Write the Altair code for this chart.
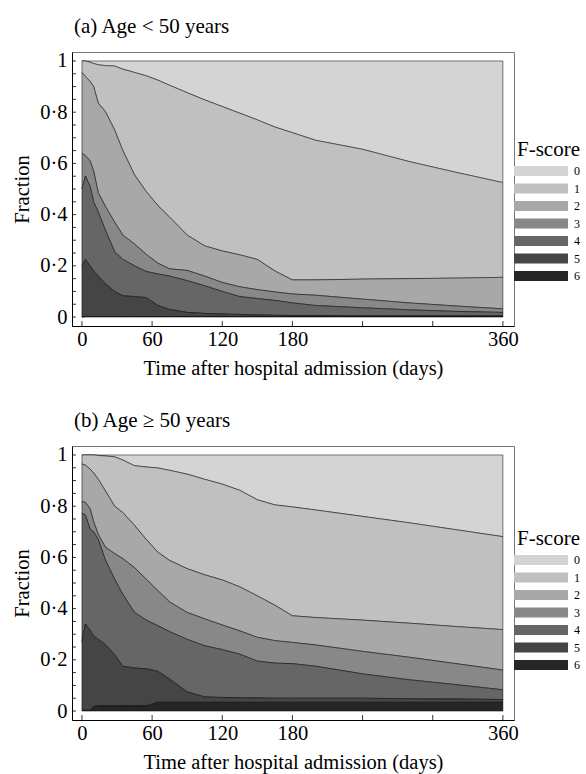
import altair as alt
import pandas as pd

# ---------------- data ----------------
DAYS = [0, 3, 7, 10, 14, 20, 28, 35, 45, 55, 65, 75, 90, 105, 120, 135, 150,
        165, 180, 200, 240, 280, 320, 360]
SCORES = ["0", "1", "2", "3", "4", "5", "6"]

# Panel (a) Age < 50: fraction of patients with F-score >= k (k = 1..6)
A_GE1 = [1.0, 1.0, 0.995, 0.99, 0.985, 0.982, 0.98, 0.968, 0.955, 0.942, 0.925, 0.905,
         0.876, 0.848, 0.822, 0.796, 0.77, 0.742, 0.72, 0.69, 0.655, 0.607, 0.565, 0.525]
A_GE2 = [0.955, 0.94, 0.92, 0.90, 0.835, 0.803, 0.73, 0.65, 0.555, 0.49, 0.435, 0.39,
         0.32, 0.278, 0.258, 0.243, 0.225, 0.18, 0.145, 0.145, 0.148, 0.15, 0.152, 0.155]
A_GE3 = [0.64, 0.63, 0.61, 0.57, 0.485, 0.433, 0.37, 0.32, 0.285, 0.245, 0.21, 0.188,
         0.182, 0.16, 0.135, 0.118, 0.107, 0.098, 0.09, 0.085, 0.07, 0.055, 0.043, 0.032]
A_GE4 = [0.50, 0.55, 0.51, 0.45, 0.41, 0.34, 0.255, 0.225, 0.2, 0.178, 0.168, 0.16,
         0.142, 0.122, 0.1, 0.08, 0.072, 0.065, 0.055, 0.045, 0.036, 0.028, 0.022, 0.018]
A_GE5 = [0.20, 0.225, 0.2, 0.18, 0.16, 0.13, 0.1, 0.083, 0.08, 0.076, 0.045, 0.03,
         0.018, 0.014, 0.012, 0.01, 0.008, 0.007, 0.006, 0.006, 0.005, 0.005, 0.005, 0.005]
A_GE6 = [0.0, 0.002, 0.002, 0.002, 0.002, 0.002, 0.002, 0.002, 0.002, 0.002, 0.002, 0.002,
         0.002, 0.002, 0.002, 0.002, 0.002, 0.002, 0.002, 0.002, 0.002, 0.002, 0.002, 0.002]

# Panel (b) Age >= 50
B_GE1 = [1.0, 1.0, 1.0, 1.0, 0.998, 0.996, 0.993, 0.98, 0.958, 0.953, 0.949, 0.94,
         0.925, 0.905, 0.886, 0.862, 0.825, 0.805, 0.797, 0.785, 0.76, 0.735, 0.708, 0.681]
B_GE2 = [0.965, 0.96, 0.945, 0.93, 0.905, 0.86, 0.8, 0.775, 0.725, 0.67, 0.62, 0.588,
         0.556, 0.532, 0.512, 0.485, 0.45, 0.413, 0.372, 0.365, 0.355, 0.343, 0.33, 0.318]
B_GE3 = [0.817, 0.815, 0.79, 0.74, 0.69, 0.64, 0.615, 0.595, 0.56, 0.515, 0.47, 0.426,
         0.385, 0.36, 0.336, 0.313, 0.288, 0.275, 0.268, 0.258, 0.233, 0.21, 0.185, 0.16]
B_GE4 = [0.772, 0.765, 0.71, 0.70, 0.67, 0.59, 0.515, 0.455, 0.385, 0.355, 0.333, 0.31,
         0.28, 0.255, 0.24, 0.222, 0.195, 0.187, 0.185, 0.175, 0.145, 0.122, 0.103, 0.083]
B_GE5 = [0.27, 0.34, 0.315, 0.293, 0.28, 0.26, 0.22, 0.175, 0.168, 0.165, 0.155, 0.125,
         0.075, 0.055, 0.053, 0.052, 0.051, 0.05, 0.05, 0.05, 0.05, 0.048, 0.047, 0.045]
B_GE6 = [0.003, 0.003, 0.003, 0.018, 0.02, 0.02, 0.02, 0.02, 0.02, 0.02, 0.034, 0.034,
         0.034, 0.034, 0.034, 0.034, 0.034, 0.034, 0.034, 0.034, 0.034, 0.034, 0.034, 0.034]

X_LABEL_VALUES = [0, 60, 120, 180, 360]
Y_LABEL_VALUES = [0, 0.2, 0.4, 0.6, 0.8, 1]
X_TICKS = [0, 60, 120, 180, 240, 300, 360]
Y_TICKS = [0, 0.05, 0.1, 0.15, 0.2, 0.25, 0.3, 0.35, 0.4, 0.45, 0.5, 0.55, 0.6,
           0.65, 0.7, 0.75, 0.8, 0.85, 0.9, 0.95, 1.0]

COLORS = ["#d4d4d4", "#c0c0c0", "#a8a8a8", "#888888", "#666666", "#454545", "#262626"]

FONT = "Liberation Serif"
W, H = 442, 274
XDOM = [-8.5, 369.5]
YDOM = [-0.035, 1.035]


def make_df(bounds):
    n = len(DAYS)
    g = [[1.0] * n] + bounds + [[0.0] * n]
    rows = []
    for k, s in enumerate(SCORES):
        for i, d in enumerate(DAYS):
            rows.append({"day": d, "score": s, "upper": g[k][i], "lower": g[k + 1][i]})
    return pd.DataFrame(rows)


def panel(title, bounds, legend_y):
    xs = alt.Scale(domain=XDOM, nice=False, zero=False)
    ys = alt.Scale(domain=YDOM, nice=False, zero=False)
    x_axis = alt.Axis(values=X_LABEL_VALUES, title="Time after hospital admission (days)",
                      labelPadding=3, titlePadding=9, labelFlush=False)
    y_axis = alt.Axis(values=Y_LABEL_VALUES, title="Fraction", labelPadding=5,
                      titlePadding=7, labelFlush=False,
                      labelExpr="datum.value == 0 ? '0' : datum.value == 1 ? '1' : "
                                "replace(format(datum.value, '.1f'), '.', '·')")
    area = alt.Chart(make_df(bounds)).mark_area(
        stroke="black", strokeWidth=0.6, strokeOpacity=0.85, interpolate="linear"
    ).encode(
        x=alt.X("day:Q", scale=xs, axis=x_axis),
        y=alt.Y("upper:Q", scale=ys, stack=None, axis=y_axis),
        y2="lower:Q",
        color=alt.Color("score:N", scale=alt.Scale(domain=SCORES, range=COLORS),
                        legend=alt.Legend(
                            title="F-score", orient="none", legendX=W, legendY=legend_y,
                            symbolType="M-1,-0.185H1V0.185H-1Z", symbolSize=2916,
                            clipHeight=12,
                            symbolStrokeWidth=0, labelFont=FONT, labelFontSize=12,
                            labelColor="black", labelOffset=6, titleFont=FONT,
                            titleFontSize=21, titleFontWeight="normal", titleColor="black",
                            titleAnchor="end", titlePadding=5, rowPadding=5.5)),
    )
    yt = alt.Chart(pd.DataFrame({"v": Y_TICKS})).mark_rule(color="black", strokeWidth=0.8).encode(
        y=alt.Y("v:Q", scale=ys, axis=y_axis), x=alt.value(0), x2=alt.value(4))
    xt = alt.Chart(pd.DataFrame({"d": X_TICKS})).mark_rule(color="black", strokeWidth=0.8).encode(
        x=alt.X("d:Q", scale=xs, axis=x_axis), y=alt.value(H), y2=alt.value(H - 5))
    return alt.layer(area, yt, xt).properties(
        width=W, height=H,
        title=alt.TitleParams(title, anchor="start", frame="group", font=FONT, fontSize=21,
                              fontWeight="normal", color="black", offset=14, dx=2))


pa = panel("(a) Age < 50 years", [A_GE1, A_GE2, A_GE3, A_GE4, A_GE5, A_GE6], 87)
pb = panel("(b) Age ≥ 50 years", [B_GE1, B_GE2, B_GE3, B_GE4, B_GE5, B_GE6], 82)

chart = alt.vconcat(pa, pb, spacing=29).resolve_legend(color="independent").properties(
    padding={"left": 12, "top": 15, "right": 0, "bottom": 0}
).configure(font=FONT).configure_view(stroke="#777", strokeWidth=1).configure_axis(
    domainColor="black", domainWidth=1, ticks=False, grid=False,
    labelFont=FONT, labelFontSize=20.5, labelColor="black",
    titleFont=FONT, titleFontSize=20.5, titleFontWeight="normal", titleColor="black")

chart.save("out.html", embed_options={"renderer": "svg", "actions": False})
